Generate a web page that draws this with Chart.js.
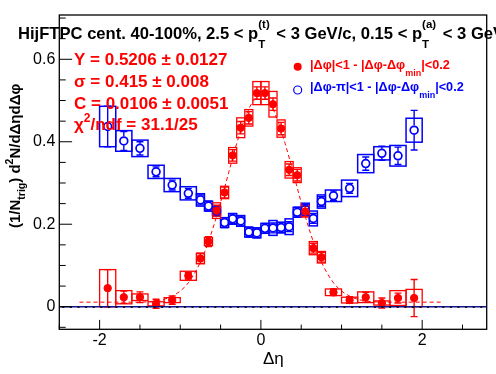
<!DOCTYPE html>
<html>
<head>
<meta charset="utf-8">
<script src="https://cdn.jsdelivr.net/npm/chart.js@4.4.1/dist/chart.umd.min.js"></script>
<style>
html, body { margin: 0; padding: 0; background: #fff; }
</style>
</head>
<body>
<canvas id="c" width="496" height="374"></canvas>
<script>
const FONT = '"Liberation Sans", Arial, Helvetica, sans-serif';

// ---- data ----
const etaBins = [-1.9, -1.7, -1.5, -1.3, -1.1, -0.9,
    -0.75, -0.65, -0.55, -0.45, -0.35, -0.25, -0.15, -0.05,
    0.05, 0.15, 0.25, 0.35, 0.45, 0.55, 0.65, 0.75,
    0.9, 1.1, 1.3, 1.5, 1.7, 1.9];
const binWidths = [0.2, 0.2, 0.2, 0.2, 0.2, 0.2,
    0.1, 0.1, 0.1, 0.1, 0.1, 0.1, 0.1, 0.1,
    0.1, 0.1, 0.1, 0.1, 0.1, 0.1, 0.1, 0.1,
    0.2, 0.2, 0.2, 0.2, 0.2, 0.2];

// near side |dphi|<1
const nearY = [0.045, 0.023, 0.023, 0.007, 0.016, 0.075,
    0.117, 0.158, 0.233, 0.277, 0.367, 0.434, 0.458, 0.518,
    0.518, 0.491, 0.432, 0.332, 0.319, 0.231, 0.142, 0.120,
    0.035, 0.016, 0.023, 0.009, 0.021, 0.021];
const nearStat = [0.045, 0.015, 0.013, 0.011, 0.010, 0.008,
    0.012, 0.012, 0.013, 0.013, 0.014, 0.015, 0.015, 0.015,
    0.015, 0.015, 0.015, 0.014, 0.014, 0.013, 0.012, 0.012,
    0.008, 0.008, 0.012, 0.012, 0.012, 0.045];
const nearSyst = [0.045, 0.016, 0.008, 0.005, 0.006, 0.011,
    0.013, 0.010, 0.019, 0.015, 0.019, 0.024, 0.020, 0.028,
    0.028, 0.031, 0.021, 0.020, 0.018, 0.013, 0.016, 0.014,
    0.008, 0.007, 0.013, 0.005, 0.018, 0.021];

// away side |dphi-pi|<1
const awayY = [0.437, 0.402, 0.384, 0.327, 0.295, 0.275,
    0.259, 0.244, 0.232, 0.204, 0.213, 0.208, 0.181, 0.179,
    0.190, 0.191, 0.192, 0.194, 0.229, 0.236, 0.214, 0.255,
    0.269, 0.287, 0.347, 0.372, 0.366, 0.428];
const awayStat = [0.049, 0.023, 0.016, 0.012, 0.012, 0.012,
    0.012, 0.012, 0.012, 0.012, 0.012, 0.012, 0.012, 0.012,
    0.012, 0.012, 0.012, 0.012, 0.012, 0.012, 0.012, 0.012,
    0.012, 0.012, 0.016, 0.017, 0.021, 0.048];
const awaySyst = [0.049, 0.025, 0.020, 0.016, 0.016, 0.016,
    0.015, 0.012, 0.010, 0.012, 0.013, 0.013, 0.012, 0.012,
    0.012, 0.018, 0.013, 0.019, 0.012, 0.015, 0.018, 0.016,
    0.014, 0.020, 0.022, 0.016, 0.025, 0.029];

// fit curve
const fitX = [-2.25, -1.6, -1.4, -1.2, -1.1, -1.0, -0.9, -0.8, -0.7, -0.6, -0.5, -0.4, -0.3, -0.2, -0.1,
    0, 0.1, 0.2, 0.3, 0.4, 0.5, 0.6, 0.7, 0.8, 0.9, 1.0, 1.1, 1.2, 1.4, 1.6, 2.25];
const fitY = [0.011, 0.011, 0.012, 0.018, 0.026, 0.038, 0.058, 0.089, 0.131, 0.187, 0.253, 0.325, 0.396, 0.456, 0.497,
    0.511, 0.497, 0.456, 0.396, 0.325, 0.253, 0.187, 0.131, 0.089, 0.058, 0.038, 0.026, 0.018, 0.012, 0.011, 0.011];

// axes
const xTicks = [-2.5, -2, -1.5, -1, -0.5, 0, 0.5, 1, 1.5, 2, 2.5];
const xMajor = [-2, 0, 2];
const xLabels = ['-2', '0', '2'];
const yTicks = [-0.05, 0, 0.05, 0.1, 0.15, 0.2, 0.25, 0.3, 0.35, 0.4, 0.45, 0.5, 0.55, 0.6, 0.65, 0.7];
const yMajor = [0, 0.2, 0.4, 0.6];
const yLabels = ['0', '0.2', '0.4', '0.6'];

const statLines = ['Y = 0.5206 \u00b1 0.0127', '\u03c3 = 0.415 \u00b1 0.008', 'C = 0.0106 \u00b1 0.0051'];
const chiText = '/ndf = 31.1/25';

const RED = '#ff0000';
const BLUE = '#0000ff';


// ---- helpers ----
function bold(size) { return 'bold ' + size + 'px ' + FONT; }

// parts: {t, f, dy, keep, gap} ; keep = do not advance x
function drawRich(ctx, x, y, parts, color) {
    ctx.fillStyle = color;
    ctx.textAlign = 'left';
    ctx.textBaseline = 'alphabetic';
    for (const p of parts) {
        ctx.font = p.f;
        ctx.fillText(p.t, x, y + (p.dy || 0));
        if (!p.keep) x += ctx.measureText(p.t).width + (p.gap || 0);
    }
}

function drawErrors(chart, ys, stat, syst, color, boxWidth, radius) {
    const ctx = chart.ctx;
    const xs = chart.scales.x, ysc = chart.scales.y;
    ctx.strokeStyle = color;
    ctx.lineWidth = boxWidth;
    etaBins.forEach((eta, i) => {
        const x0 = xs.getPixelForValue(eta - binWidths[i] / 2);
        const x1 = xs.getPixelForValue(eta + binWidths[i] / 2);
        const yt = ysc.getPixelForValue(ys[i] + syst[i]);
        const yb = ysc.getPixelForValue(ys[i] - syst[i]);
        ctx.strokeRect(x0, yt, x1 - x0, yb - yt);
    });
    ctx.lineWidth = 1.4;
    etaBins.forEach((eta, i) => {
        const px = xs.getPixelForValue(eta);
        const py = ysc.getPixelForValue(ys[i]);
        const yt = ysc.getPixelForValue(ys[i] + stat[i]);
        const yb = ysc.getPixelForValue(ys[i] - stat[i]);
        ctx.beginPath();
        if (py - yt > radius) { ctx.moveTo(px, py - radius); ctx.lineTo(px, yt); }
        if (yb - py > radius) { ctx.moveTo(px, py + radius); ctx.lineTo(px, yb); }
        ctx.moveTo(px - 3.5, yt); ctx.lineTo(px + 3.5, yt);
        ctx.moveTo(px - 3.5, yb); ctx.lineTo(px + 3.5, yb);
        ctx.stroke();
    });
}


// ---- plugins ----
const errorPlugin = {
    id: 'errors',
    beforeDatasetsDraw(chart) {
        const ctx = chart.ctx, a = chart.chartArea;
        ctx.save();
        ctx.beginPath();
        ctx.rect(a.left, a.top, a.right - a.left, a.bottom - a.top);
        ctx.clip();
        drawErrors(chart, awayY, awayStat, awaySyst, BLUE, 1.5, 4.6);
        drawErrors(chart, nearY, nearStat, nearSyst, RED, 1.3, 0);
        ctx.restore();
    },
    afterDatasetsDraw(chart) {
        const ctx = chart.ctx, a = chart.chartArea;
        const y0 = chart.scales.y.getPixelForValue(0);
        ctx.save();
        ctx.strokeStyle = '#10109a';
        ctx.lineWidth = 1.5;
        ctx.beginPath();
        ctx.moveTo(a.left, y0); ctx.lineTo(a.right, y0);
        ctx.stroke();
        ctx.strokeStyle = '#111';
        ctx.lineWidth = 1.6;
        ctx.setLineDash([2, 5.6]);
        ctx.beginPath();
        ctx.moveTo(a.left + 3, y0 + 0.4); ctx.lineTo(a.right, y0 + 0.4);
        ctx.stroke();
        ctx.restore();
    }
};

const framePlugin = {
    id: 'frame',
    afterDraw(chart) {
        const ctx = chart.ctx, a = chart.chartArea;
        const xs = chart.scales.x, ys = chart.scales.y;
        ctx.save();

        // frame and inward ticks
        ctx.strokeStyle = '#000';
        ctx.lineWidth = 1.3;
        ctx.strokeRect(a.left, a.top, a.right - a.left, a.bottom - a.top);
        ctx.lineWidth = 1;
        ctx.beginPath();
        xTicks.forEach(v => {
            const px = xs.getPixelForValue(v);
            const len = xMajor.includes(v) ? 9.4 : 4.7;
            ctx.moveTo(px, a.bottom); ctx.lineTo(px, a.bottom - len);
        });
        yTicks.forEach(v => {
            const py = ys.getPixelForValue(v);
            const len = yMajor.includes(v) ? 12.8 : 6.4;
            ctx.moveTo(a.left, py); ctx.lineTo(a.left + len, py);
        });
        ctx.stroke();

        // title
        drawRich(ctx, 18, 39, [
            { t: 'HijFTPC cent. 40-100%, 2.5 < p', f: bold(16.6) },
            { t: 'T', f: bold(11.5), dy: 9, keep: true },
            { t: '(t)', f: bold(11.5), dy: -11, gap: 2 },
            { t: ' < 3 GeV/c, 0.15 < p', f: bold(16.6) },
            { t: 'T', f: bold(11.5), dy: 9, keep: true },
            { t: '(a)', f: bold(11.5), dy: -11, gap: 2 },
            { t: ' < 3 GeV/c', f: bold(16.6) }
        ], '#000');

        // fit results
        statLines.forEach((s, i) => {
            drawRich(ctx, 74, 65 + i * 21.8, [{ t: s, f: bold(17) }], RED);
        });
        drawRich(ctx, 74, 65 + 3 * 21.8, [
            { t: '\u03c7', f: bold(17) },
            { t: '2', f: bold(12), dy: -8 },
            { t: chiText, f: bold(17) }
        ], RED);

        // legend
        ctx.fillStyle = RED;
        ctx.beginPath();
        ctx.arc(297.7, 66.7, 4, 0, Math.PI * 2);
        ctx.fill();
        ctx.strokeStyle = BLUE;
        ctx.lineWidth = 1.2;
        ctx.beginPath();
        ctx.arc(297.7, 90, 4, 0, Math.PI * 2);
        ctx.stroke();
        drawRich(ctx, 310, 69, [
            { t: '|\u0394\u03c6|<1 - |\u0394\u03c6-\u0394\u03c6', f: bold(12.7) },
            { t: 'min', f: bold(9), dy: 6.5 },
            { t: '|<0.2', f: bold(12.7) }
        ], RED);
        drawRich(ctx, 310, 91, [
            { t: '|\u0394\u03c6-\u03c0|<1 - |\u0394\u03c6-\u0394\u03c6', f: bold(12.7) },
            { t: 'min', f: bold(9), dy: 6.5 },
            { t: '|<0.2', f: bold(12.7) }
        ], BLUE);

        // axis titles
        drawRich(ctx, 263, 364, [{ t: '\u0394\u03b7', f: '17px ' + FONT }], '#000');
        ctx.translate(20, 228);
        ctx.rotate(-Math.PI / 2);
        drawRich(ctx, 0, 0, [
            { t: '(1/N', f: bold(15) },
            { t: 'trig', f: bold(10.5), dy: 5 },
            { t: ') d', f: bold(15) },
            { t: '2', f: bold(10.5), dy: -7 },
            { t: 'N/d\u0394\u03b7d\u0394\u03c6', f: bold(15) }
        ], '#000');
        ctx.restore();
    }
};


// ---- chart ----
new Chart(document.getElementById('c'), {
    type: 'scatter',
    data: {
        datasets: [
            {
                type: 'line',
                data: fitX.map((x, i) => ({ x: x, y: fitY[i] })),
                borderColor: RED,
                borderWidth: 1,
                borderDash: [4, 3],
                pointRadius: 0,
                cubicInterpolationMode: 'monotone',
                fill: false,
                order: 0
            },
            {
                data: etaBins.map((x, i) => ({ x: x, y: nearY[i] })),
                pointRadius: 3.7,
                pointBackgroundColor: RED,
                pointBorderColor: RED,
                pointBorderWidth: 1,
                order: 1
            },
            {
                data: etaBins.map((x, i) => ({ x: x, y: awayY[i] })),
                pointRadius: 3.9,
                pointBackgroundColor: 'rgba(0,0,0,0)',
                pointBorderColor: BLUE,
                pointBorderWidth: 1.7,
                order: 2
            }
        ]
    },
    options: {
        responsive: false,
        animation: false,
        devicePixelRatio: 1,
        layout: { padding: { left: 0, top: 15, right: 9.3, bottom: 0 } },
        plugins: { legend: { display: false }, tooltip: { enabled: false } },
        scales: {
            x: {
                type: 'linear',
                min: -2.5,
                max: 2.8,
                afterBuildTicks: s => { s.ticks = xTicks.map(v => ({ value: v })); },
                afterFit: s => { s.height = 44.7; },
                grid: { display: false, drawTicks: false },
                border: { display: false },
                ticks: {
                    autoSkip: false,
                    maxRotation: 0,
                    padding: 2,
                    color: '#000',
                    font: { family: FONT, size: 16 },
                    callback: v => { const k = xMajor.indexOf(v); return k < 0 ? '' : xLabels[k]; }
                }
            },
            y: {
                type: 'linear',
                min: -0.0548,
                max: 0.7074,
                afterBuildTicks: s => { s.ticks = yTicks.map(v => ({ value: v })); },
                afterFit: s => { s.width = 59.3; },
                grid: { display: false, drawTicks: false },
                border: { display: false },
                ticks: {
                    autoSkip: false,
                    padding: 4,
                    color: '#000',
                    font: { family: FONT, size: 16 },
                    callback: v => { const k = yMajor.indexOf(v); return k < 0 ? '' : yLabels[k]; }
                }
            }
        }
    },
    plugins: [errorPlugin, framePlugin]
});
</script>
</body>
</html>
